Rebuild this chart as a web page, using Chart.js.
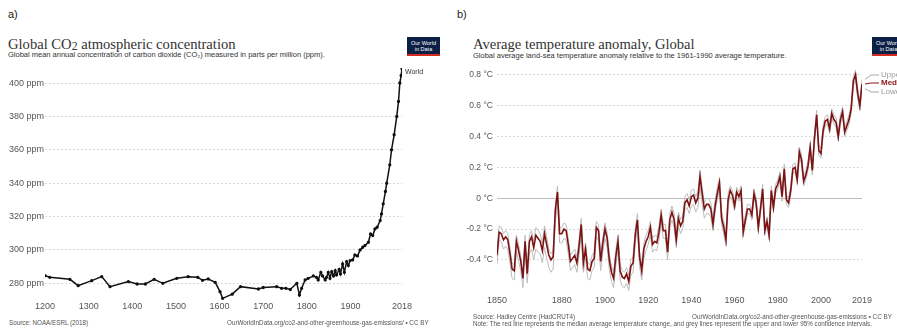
<!DOCTYPE html>
<html><head><meta charset="utf-8">
<script src="https://cdn.jsdelivr.net/npm/chart.js@4.4.0/dist/chart.umd.min.js"></script>
<style>
body{margin:0;width:897px;height:329px;background:#fff;position:relative;overflow:hidden;font-family:"Liberation Sans",Arial,sans-serif;}
.t{position:absolute;white-space:nowrap;line-height:1;}
.panel{font-size:11px;color:#222;}
.title{font-family:"Liberation Serif","DejaVu Serif",serif;font-size:14.6px;color:#333;}
.title .s{font-size:0.8em;position:relative;top:1px;}
.sub{font-size:7.5px;color:#333;}
.src{font-size:6.3px;color:#555;}
.logo{position:absolute;background:#0c1f44;color:#fff;font-size:5.5px;line-height:6px;text-align:center;border-bottom:2px solid #d42b21;box-sizing:border-box;padding-top:3px;white-space:nowrap;}
canvas{position:absolute;}
</style></head>
<body>
<div class="t panel" style="left:8px;top:9px;">a)</div>
<div class="t panel" style="left:457px;top:9px;">b)</div>

<div class="t title" style="left:8px;top:37px;">Global CO<span class="s">2</span> atmospheric concentration</div>
<div class="t sub" style="left:8px;top:51px;">Global mean annual concentration of carbon dioxide (CO₂) measured in parts per million (ppm).</div>
<div class="logo" style="left:407px;top:37px;width:33px;height:19px;">Our World<br>in Data</div>

<div class="t title" style="left:473px;top:37px;">Average temperature anomaly, Global</div>
<div class="t sub" style="left:473px;top:52px;">Global average land-sea temperature anomaly relative to the 1961-1990 average temperature.</div>
<div class="logo" style="left:872px;top:37px;width:33px;height:19px;">Our World<br>in Data</div>

<canvas id="ca" width="440" height="255" style="left:0;top:60px;"></canvas>
<canvas id="cb" width="447" height="250" style="left:450px;top:60px;"></canvas>

<div class="t src" style="left:9px;top:320px;">Source: NOAA/ESRL (2018)</div>
<div class="t src" style="left:227px;top:320px;">OurWorldInData.org/co2-and-other-greenhouse-gas-emissions/ • CC BY</div>
<div class="t src" style="left:473px;top:314px;">Source: Hadley Centre (HadCRUT4)</div>
<div class="t src" style="left:692px;top:314px;">OurWorldInData.org/co2-and-other-greenhouse-gas-emissions • CC BY</div>
<div class="t src" style="left:473px;top:321px;">Note: The red line represents the median average temperature change, and grey lines represent the upper and lower 95% confidence intervals.</div>

<script>
// ---------- Panel a: CO2 ----------
const co2Years = [1200,1211,1257,1276,1307,1330,1349,1391,1411,1430,1450,1470,1502,1528,1550,1561,1574,1590,1601,1607,1629,1648,1689,1700,1731,1742,1752,1762,1777,1783,1788,1796,1803,1815,1822,1826,1832,1836,1842,1845,1849,1853,1857,1861,1865,1868,1874,1877,1882,1886,1891,1895,1899,1905,1910,1916,1922,1928,1933,1941,1946,1951,1956,1961,1968,1971,1975,1980,1983,1990,1994,2000,2006,2010,2013,2016,2018];
const co2Ppm = [284.6,283.6,282.4,278.6,281.6,284,278,281,279.6,279.6,282.4,280,283,284,283.6,281.8,282.6,280.6,275,271,273.5,278,276.6,277.5,278,277,277,276.3,280,273,277,282,283,284.4,283.6,282,286.6,284.4,282,283.6,286.6,283,287,284.4,287.6,285,288.4,285.6,291.6,286.6,293,290.6,293.6,294,297,296.4,300,301.6,302.6,304.6,309.6,308.6,312.6,313.6,317.6,321.6,327.6,335,340,351,360,369,380,389,400,404.5,408.5];
const co2YTicks = [280,300,320,340,360,380,400];
const co2XTicks = [1200,1300,1400,1500,1600,1700,1800,1900,2018];
const co2SeriesName = "World";

// ---------- Panel b: temperature anomaly ----------
const tempStartYear = 1850;
const tempMedian = [
-0.37,-0.22,-0.23,-0.27,-0.25,-0.27,-0.36,-0.46,-0.47,-0.28,
-0.34,-0.41,-0.52,-0.28,-0.49,-0.28,-0.25,-0.32,-0.24,-0.26,
-0.28,-0.34,-0.23,-0.30,-0.37,-0.40,-0.38,-0.08,0.04,-0.23,
-0.23,-0.20,-0.21,-0.30,-0.41,-0.39,-0.37,-0.42,-0.31,-0.17,
-0.42,-0.33,-0.46,-0.47,-0.41,-0.39,-0.19,-0.21,-0.41,-0.29,
-0.20,-0.26,-0.40,-0.48,-0.52,-0.38,-0.28,-0.47,-0.51,-0.52,
-0.49,-0.54,-0.44,-0.42,-0.24,-0.14,-0.38,-0.47,-0.33,-0.28,
-0.25,-0.19,-0.30,-0.28,-0.29,-0.22,-0.11,-0.21,-0.21,-0.35,
-0.14,-0.09,-0.14,-0.27,-0.13,-0.18,-0.15,-0.03,-0.01,-0.05,
0.01,0.02,-0.03,0.00,0.14,0.03,-0.07,-0.04,-0.04,-0.07,
-0.17,-0.05,0.03,0.10,-0.13,-0.19,-0.27,-0.01,0.05,0.02,
-0.05,0.04,0.01,0.05,-0.22,-0.14,-0.07,-0.07,-0.11,0.03,
-0.03,-0.19,-0.07,0.06,-0.21,-0.15,-0.24,0.05,-0.06,0.06,
0.09,0.14,0.01,0.19,-0.01,-0.03,0.05,0.19,0.20,0.12,
0.30,0.25,0.11,0.15,0.21,0.33,0.18,0.39,0.54,0.31,
0.29,0.44,0.50,0.51,0.45,0.55,0.51,0.49,0.40,0.51,
0.56,0.43,0.47,0.51,0.58,0.76,0.80,0.68,0.60,0.74];
const tempUpper = [
-0.33,-0.18,-0.19,-0.23,-0.21,-0.23,-0.32,-0.42,-0.43,-0.24,
-0.30,-0.37,-0.48,-0.24,-0.45,-0.24,-0.21,-0.28,-0.19,-0.21,
-0.23,-0.29,-0.18,-0.25,-0.33,-0.36,-0.34,-0.04,0.08,-0.19,
-0.19,-0.16,-0.17,-0.26,-0.37,-0.35,-0.33,-0.38,-0.27,-0.13,
-0.38,-0.29,-0.42,-0.43,-0.37,-0.35,-0.15,-0.17,-0.37,-0.25,
-0.16,-0.22,-0.36,-0.44,-0.48,-0.34,-0.24,-0.43,-0.47,-0.48,
-0.45,-0.50,-0.40,-0.38,-0.20,-0.10,-0.34,-0.43,-0.29,-0.24,
-0.21,-0.15,-0.26,-0.24,-0.25,-0.18,-0.07,-0.17,-0.17,-0.31,
-0.10,-0.05,-0.10,-0.23,-0.09,-0.14,-0.11,0.01,0.03,-0.01,
0.05,0.06,0.01,0.04,0.18,0.07,-0.03,0.00,0.00,-0.03,
-0.13,-0.01,0.07,0.13,-0.09,-0.15,-0.23,0.03,0.08,0.05,
-0.02,0.07,0.04,0.08,-0.19,-0.11,-0.04,-0.04,-0.08,0.06,
0.00,-0.16,-0.04,0.09,-0.18,-0.12,-0.21,0.08,-0.03,0.09,
0.12,0.17,0.04,0.22,0.02,0.00,0.08,0.22,0.23,0.15,
0.33,0.28,0.14,0.18,0.24,0.36,0.21,0.42,0.57,0.34,
0.32,0.47,0.53,0.54,0.48,0.58,0.54,0.52,0.43,0.54,
0.59,0.46,0.50,0.54,0.61,0.79,0.83,0.71,0.63,0.77];
const tempLower = [
-0.43,-0.27,-0.28,-0.33,-0.31,-0.33,-0.42,-0.52,-0.53,-0.34,
-0.41,-0.47,-0.58,-0.34,-0.55,-0.36,-0.33,-0.40,-0.33,-0.35,
-0.36,-0.42,-0.32,-0.39,-0.45,-0.48,-0.46,-0.16,-0.03,-0.29,
-0.29,-0.26,-0.27,-0.36,-0.47,-0.45,-0.43,-0.48,-0.37,-0.23,
-0.48,-0.39,-0.52,-0.53,-0.47,-0.45,-0.25,-0.27,-0.47,-0.35,
-0.26,-0.32,-0.46,-0.54,-0.58,-0.44,-0.34,-0.53,-0.57,-0.58,
-0.55,-0.60,-0.50,-0.48,-0.30,-0.20,-0.44,-0.53,-0.39,-0.34,
-0.30,-0.24,-0.35,-0.33,-0.34,-0.27,-0.16,-0.26,-0.26,-0.40,
-0.19,-0.14,-0.19,-0.32,-0.18,-0.23,-0.20,-0.08,-0.06,-0.10,
-0.05,-0.04,-0.09,-0.06,0.07,-0.04,-0.13,-0.10,-0.10,-0.12,
-0.21,-0.09,-0.01,0.06,-0.17,-0.23,-0.31,-0.05,0.01,-0.02,
-0.08,0.01,-0.02,0.02,-0.25,-0.17,-0.10,-0.10,-0.14,0.00,
-0.06,-0.22,-0.10,0.03,-0.24,-0.18,-0.27,0.02,-0.09,0.03,
0.06,0.11,-0.02,0.16,-0.04,-0.06,0.02,0.16,0.17,0.09,
0.27,0.22,0.08,0.12,0.18,0.30,0.15,0.36,0.51,0.28,
0.26,0.41,0.47,0.48,0.42,0.52,0.48,0.46,0.37,0.48,
0.53,0.40,0.44,0.48,0.55,0.73,0.77,0.65,0.57,0.71];
const tempYTicks = [-0.4,-0.2,0,0.2,0.4,0.6,0.8];
const tempXTicks = [1850,1880,1900,1920,1940,1960,1980,2000,2019];
const tempSeriesNames = ["Median","Upper","Lower"];

// ---------- build ----------
const tickFont = {family:"Liberation Sans, Arial, sans-serif", size:9};

const worldLabel = {
  id:'worldLabel',
  afterDatasetsDraw(chart){
    const meta = chart.getDatasetMeta(0);
    const p = meta.data[meta.data.length-1];
    const c = chart.ctx;
    c.save();
    c.font = '7px "Liberation Sans", Arial, sans-serif';
    c.fillStyle = '#333';
    c.textBaseline = 'middle';
    c.fillText(co2SeriesName, p.x + 3, p.y + 3);
    c.restore();
  }
};

new Chart(document.getElementById('ca'), {
  type:'line',
  data:{datasets:[{
    data: co2Years.map((y,i)=>({x:y, y:co2Ppm[i]})),
    borderColor:'#111', backgroundColor:'#111', borderWidth:1.5,
    pointRadius:0.9, pointHoverRadius:0, tension:0
  }]},
  options:{
    responsive:false, animation:false, devicePixelRatio:1,
    layout:{padding:{left:9, top:8, right:38, bottom:0}},
    plugins:{legend:{display:false}, tooltip:{enabled:false}},
    scales:{
      x:{type:'linear', min:1200, max:2018,
        afterBuildTicks(s){ s.ticks = co2XTicks.map(v=>({value:v})); },
        afterFit(s){ s.height = 15; },
        grid:{display:false, drawTicks:false}, border:{display:false},
        ticks:{autoSkip:false, maxRotation:0, padding:1, font:tickFont, color:'#555', callback:v=>String(v)}},
      y:{type:'linear', min:270, max:409,
        afterBuildTicks(s){ s.ticks = co2YTicks.map(v=>({value:v})); },
        afterFit(s){ s.width = 36; },
        grid:{color:'#d8d8d8', drawTicks:false, lineWidth:1},
        border:{display:false, dash:[2,2]},
        ticks:{crossAlign:'far', padding:0, font:tickFont, color:'#555', callback:v=>v+' ppm'}}
    }
  },
  plugins:[worldLabel]
});

const tempYears = tempMedian.map((_,i)=>tempStartYear+i);
const toPts = arr => arr.map((v,i)=>({x:tempYears[i], y:v}));

const tempLegend = {
  id:'tempLegend',
  afterDatasetsDraw(chart){
    const c = chart.ctx, a = chart.chartArea;
    const items = [
      {ds:1, label:tempSeriesNames[1], ly:15, color:'#9a9a9a', bold:false},
      {ds:0, label:tempSeriesNames[0], ly:23, color:'#8b1515', bold:true},
      {ds:2, label:tempSeriesNames[2], ly:32, color:'#9a9a9a', bold:false}
    ];
    c.save();
    items.forEach(it=>{
      const m = chart.getDatasetMeta(it.ds);
      const p = m.data[m.data.length-1];
      c.strokeStyle = it.bold ? '#8b1515' : '#aaa';
      c.lineWidth = 1;
      c.beginPath();
      c.moveTo(a.right+3, p.y);
      c.lineTo(a.right+9, it.ly);
      c.lineTo(a.right+17, it.ly);
      c.stroke();
      c.font = (it.bold?'bold ':'') + '8px "Liberation Sans", Arial, sans-serif';
      c.fillStyle = it.color;
      c.textBaseline = 'middle';
      c.fillText(it.label, a.right+19, it.ly);
    });
    c.restore();
  }
};

new Chart(document.getElementById('cb'), {
  type:'line',
  data:{datasets:[
    {label:tempSeriesNames[0], data:toPts(tempMedian), borderColor:'#7d1212', borderWidth:1.6, pointRadius:0, tension:0},
    {label:tempSeriesNames[1], data:toPts(tempUpper), borderColor:'#bcbcbc', borderWidth:1, pointRadius:0, tension:0},
    {label:tempSeriesNames[2], data:toPts(tempLower), borderColor:'#bcbcbc', borderWidth:1, pointRadius:0, tension:0}
  ]},
  options:{
    responsive:false, animation:false, devicePixelRatio:1,
    layout:{padding:{left:0, top:8, right:35, bottom:0}},
    plugins:{legend:{display:false}, tooltip:{enabled:false}},
    scales:{
      x:{type:'linear', min:1850, max:2019,
        afterBuildTicks(s){ s.ticks = tempXTicks.map(v=>({value:v})); },
        afterFit(s){ s.height = 18; },
        grid:{display:false, drawTicks:false}, border:{display:false},
        ticks:{autoSkip:false, maxRotation:0, padding:3, font:tickFont, color:'#555', callback:v=>String(v)}},
      y:{type:'linear', min:-0.608, max:0.837,
        afterBuildTicks(s){ s.ticks = tempYTicks.map(v=>({value:v})); },
        afterFit(s){ s.width = 47; },
        grid:{color:ctx=>(ctx.tick && Math.abs(ctx.tick.value)<1e-9)?'#bdbdbd':'#d8d8d8', drawTicks:false, lineWidth:1},
        border:{display:false, dash:ctx=>(ctx.tick && Math.abs(ctx.tick.value)<1e-9)?[]:[2,2]},
        ticks:{padding:4, font:{family:"Liberation Sans, Arial, sans-serif", size:8.5}, color:'#555',
          callback:v=>(Math.abs(v)<1e-9?'0':v.toFixed(1))+' °C'}}
    }
  },
  plugins:[tempLegend]
});
</script>
</body></html>
